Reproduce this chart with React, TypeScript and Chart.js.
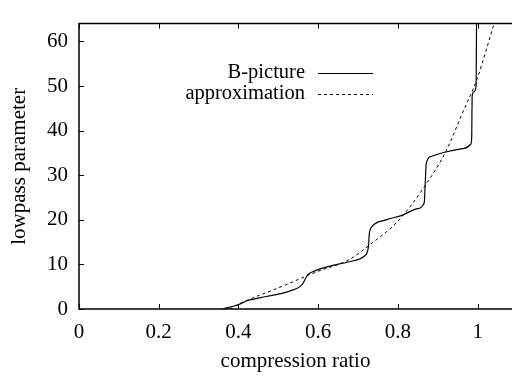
import React, { useEffect, useRef } from "react";
import { Chart, registerables } from "chart.js";

Chart.register(...registerables);

// B-picture (solid)
const bPictureX = [0.36, 0.4, 0.423, 0.47, 0.528, 0.56, 0.573, 0.59, 0.62, 0.678, 0.716, 0.726, 0.728, 0.736, 0.77, 0.81, 0.849, 0.866, 0.868, 0.871, 0.883, 0.92, 0.966, 0.983, 0.985, 0.986, 0.99, 0.996, 0.997];
const bPictureY = [0, 1, 1.9, 2.8, 4.0, 5.5, 7.6, 8.5, 9.4, 10.6, 11.9, 14, 16.8, 18.6, 20, 21, 22.5, 23.9, 27.4, 32.7, 34.2, 35.2, 36, 37, 38.8, 47.6, 48.7, 50, 64];

// approximation (dashed)
const approxX = [0.378, 0.403, 0.51, 0.595, 0.678, 0.728, 0.803, 0.866, 0.92, 0.961, 0.998, 1.041];
const approxY = [0, 1.2, 5.1, 8.3, 11.1, 14.3, 20, 27.4, 35.3, 43.8, 51.5, 64];

const seriesLabels = ["B-picture", "approximation"];
const xTicks = [0, 0.2, 0.4, 0.6, 0.8, 1];
const yTicks = [0, 10, 20, 30, 40, 50, 60];
const xTitle = "compression ratio";
const yTitle = "lowpass parameter";

const FONT = "'Liberation Serif', 'DejaVu Serif', 'Times New Roman', serif";
const FS = 21;

const framePlugin = {
  id: "frame",
  afterDraw(chart: any) {
    const { ctx, chartArea, scales } = chart;
    const { left, right, top, bottom } = chartArea;
    const x = scales.x;
    const y = scales.y;
    ctx.save();
    ctx.strokeStyle = "#000";
    ctx.lineWidth = 1.5;
    ctx.setLineDash([]);
    ctx.beginPath();
    ctx.moveTo(right, top);
    ctx.lineTo(left, top);
    ctx.lineTo(left, bottom);
    ctx.lineTo(right, bottom);
    ctx.stroke();
    ctx.lineWidth = 1;
    ctx.beginPath();
    xTicks.forEach((v) => {
      const px = Math.round(x.getPixelForValue(v)) + 0.5;
      ctx.moveTo(px, bottom);
      ctx.lineTo(px, bottom - 5);
      ctx.moveTo(px, top);
      ctx.lineTo(px, top + 5);
    });
    yTicks.forEach((v) => {
      const py = Math.round(y.getPixelForValue(v)) + 0.5;
      ctx.moveTo(left, py);
      ctx.lineTo(left + 5, py);
    });
    ctx.stroke();

    // legend
    ctx.font = `20.5px ${FONT}`;
    ctx.fillStyle = "#000";
    ctx.textAlign = "right";
    ctx.textBaseline = "alphabetic";
    chart.data.datasets.forEach((ds: any, i: number) => {
      const base = 78 + i * 21;
      ctx.fillText(ds.label, 305, base);
      ctx.beginPath();
      ctx.lineWidth = ds.borderWidth;
      ctx.setLineDash(ds.borderDash || []);
      ctx.moveTo(318, base - 4.5);
      ctx.lineTo(373, base - 4.5);
      ctx.stroke();
    });
    ctx.restore();
  },
};

export default function App() {
  const ref = useRef<HTMLCanvasElement>(null);
  useEffect(() => {
    if (!ref.current) return;
    const chart = new Chart(ref.current, {
      type: "line",
      data: {
        datasets: [
          {
            label: seriesLabels[0],
            data: bPictureX.map((v, i) => ({ x: v, y: bPictureY[i] })),
            borderColor: "#000",
            borderWidth: 1.2,
            pointRadius: 0,
            cubicInterpolationMode: "monotone",
            fill: false,
          },
          {
            label: seriesLabels[1],
            data: approxX.map((v, i) => ({ x: v, y: approxY[i] })),
            borderColor: "#000",
            borderWidth: 1,
            borderDash: [3, 3],
            pointRadius: 0,
            cubicInterpolationMode: "monotone",
            fill: false,
          },
        ],
      },
      options: {
        responsive: false,
        animation: false,
        devicePixelRatio: 1,
        layout: { padding: { left: 0, right: 0, top: 7, bottom: 0 } },
        plugins: { legend: { display: false }, tooltip: { enabled: false } },
        scales: {
          x: {
            type: "linear",
            min: 0,
            max: 1.086,
            grid: { display: false, drawTicks: false },
            border: { display: false },
            afterBuildTicks: (s: any) => {
              s.ticks = xTicks.map((v) => ({ value: v }));
            },
            afterFit: (s: any) => {
              s.height = 70;
            },
            ticks: {
              padding: 11,
              color: "#000",
              font: { family: FONT, size: FS },
              callback: (v: any) => String(v),
            },
            title: {
              display: true,
              text: xTitle,
              color: "#000",
              font: { family: FONT, size: FS },
              padding: { top: 0, bottom: 5 },
            },
          },
          y: {
            type: "linear",
            min: 0,
            max: 64,
            grid: { display: false, drawTicks: false },
            border: { display: false },
            afterBuildTicks: (s: any) => {
              s.ticks = yTicks.map((v) => ({ value: v }));
            },
            afterFit: (s: any) => {
              s.width = 79;
            },
            ticks: {
              padding: 11,
              color: "#000",
              font: { family: FONT, size: FS },
              callback: (v: any) => String(v),
            },
            title: {
              display: true,
              text: yTitle,
              color: "#000",
              font: { family: FONT, size: FS },
              padding: { top: 7, bottom: 0 },
            },
          },
        },
      },
      plugins: [framePlugin],
    });
    return () => chart.destroy();
  }, []);
  return (
    <div style={{ position: "fixed", left: 0, top: 0, width: 512, height: 379, background: "#fff" }}>
      <canvas ref={ref} width={512} height={379} />
    </div>
  );
}
